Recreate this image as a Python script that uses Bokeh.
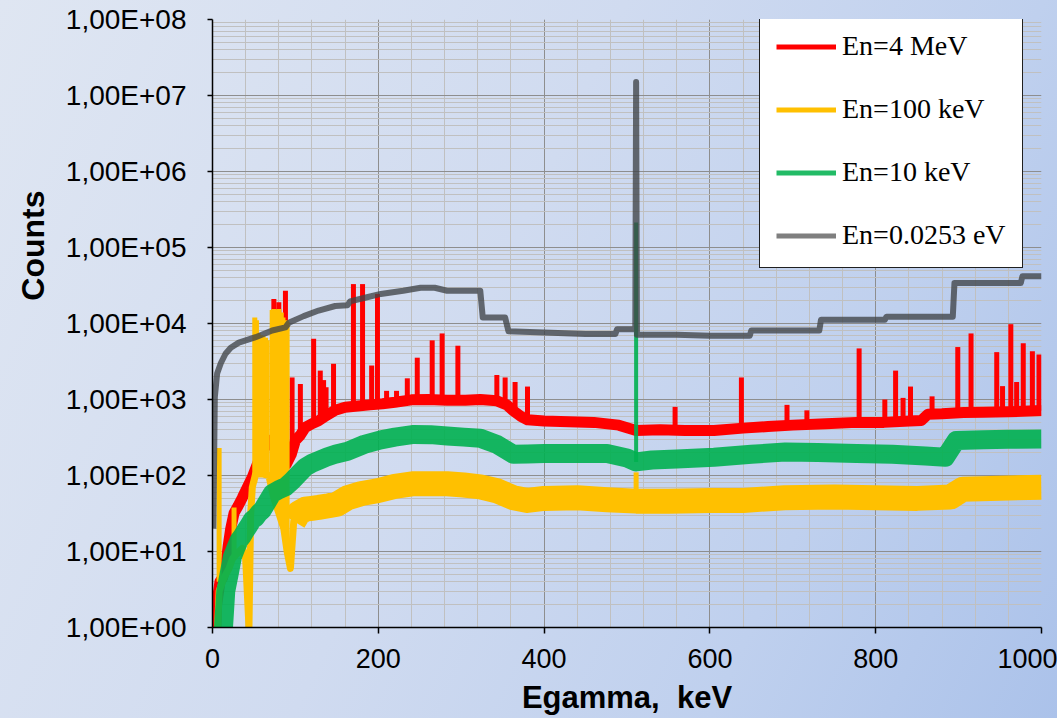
import math
from bokeh.plotting import figure
from bokeh.models import (Range1d, FixedTicker, CustomJSTickFormatter, Legend,
                          LegendItem, Title)
from bokeh.embed import file_html
from bokeh.resources import INLINE

# ---------------- data ----------------
X_TICKS = [0, 200, 400, 600, 800, 1000]
X_TICK_LABELS = ["0", "200", "400", "600", "800", "1000"]
Y_TICKS = [1, 10, 100, 1e3, 1e4, 1e5, 1e6, 1e7, 1e8]
Y_TICK_LABELS = ["1,00E+00", "1,00E+01", "1,00E+02", "1,00E+03", "1,00E+04",
                 "1,00E+05", "1,00E+06", "1,00E+07", "1,00E+08"]
X_TITLE = "Egamma,\u00a0 keV"
Y_TITLE = "Counts"

SERIES_NAMES = ["En=4 MeV", "En=100 keV", "En=10 keV", "En=0.0253 eV"]

# En=4 MeV : continuum
RED_X = [3, 5, 9, 12, 16, 19, 22, 26, 31, 36, 42, 48, 55, 62, 68, 75, 82, 89, 95, 100,
         106, 112, 120, 128, 138, 148, 160, 175, 190, 205, 220, 240, 260, 283, 305, 323,
         343, 355, 363, 372, 380, 400, 430, 460, 490, 511, 540, 570, 605, 640, 670, 700,
         740, 777, 810, 841, 855, 863, 880, 906, 930, 960, 1000]
RED_Y = [0.5, 2, 4, 4.5, 6.5, 12, 20, 32, 40, 51, 70, 95, 150, 220, 290, 260, 200, 140, 190, 290,
         340, 430, 480, 525, 620, 720, 790, 820, 850, 880, 920, 990, 1000, 980, 980, 1000,
         960, 850, 710, 600, 540, 520, 510, 500, 460, 390, 400, 390, 390, 420, 440, 460,
         480, 500, 500, 520, 530, 640, 650, 676, 680, 690, 716]
# En=4 MeV : lines
RED_PEAK_X = [74, 80, 88, 96, 106, 122, 130, 134, 137, 146, 170, 181, 192, 199, 210, 222, 235,
              247, 265, 277, 296, 343, 353, 365, 380, 558, 638, 693, 717, 780, 811, 824, 833,
              842, 868, 899, 915, 946, 953, 963, 970, 978, 989, 997]
RED_PEAK_TOP = [21000, 19000, 27000, 1950, 1600, 6300, 2400, 1800, 1450, 2950, 33000, 33000,
                2800, 24500, 1300, 1300, 1900, 3550, 6000, 7400, 5100, 2100, 1950, 1700, 1480,
                800, 1950, 850, 720, 4700, 1000, 2400, 1050, 1480, 1100, 4900, 7400, 4200,
                1500, 9800, 1700, 5500, 4300, 3900]
RED_PEAK_BASE = [260, 230, 150, 190, 340, 490, 540, 560, 600, 700, 810, 830, 850, 870, 890, 920,
                 970, 990, 1000, 990, 980, 960, 870, 690, 540, 400, 420, 455, 470, 500, 500,
                 505, 510, 520, 640, 670, 676, 685, 688, 690, 690, 695, 700, 710]

# En=100 keV : low-energy part and continuum
YELLOW_LOW_X = [5, 8, 12, 16, 20, 24, 28, 32, 36, 40, 44, 46, 48, 52, 60, 68, 74, 80, 86, 90,
                94, 98, 104]
YELLOW_LOW_Y = [0.5, 3, 4, 5, 6, 8, 9, 10, 11, 8, 1, 30, 70, 105, 105, 100, 50, 32, 20, 10,
                6, 25, 32]
YELLOW_X = [98, 104, 112, 120, 128, 140, 150, 163, 180, 199, 220, 243, 263, 283, 303, 323,
            343, 363, 380, 400, 440, 476, 511, 550, 600, 640, 690, 750, 800, 850, 890, 905,
            950, 1000]
YELLOW_Y = [25, 32, 36, 37, 38, 40, 42, 51, 58, 63, 72, 78, 78, 78, 75, 71,
            63, 51, 47, 50, 51, 48, 46, 46, 47, 47, 51, 52, 51, 50, 52, 66,
            68, 70]
YELLOW_PEAK_X = [8, 26, 51, 53, 55, 58, 61, 64, 66, 72, 74, 77, 80, 83, 85, 89, 90, 511]
YELLOW_PEAK_TOP = [230, 38, 12000, 11000, 7500, 7000, 6800, 6500, 6000, 15000, 15500, 15000,
                   15500, 14000, 12000, 11000, 10500, 110]
YELLOW_PEAK_BASE = [4, 9, 80, 100, 105, 105, 105, 100, 100, 90, 60, 45, 35, 28, 24, 12, 10, 46]

# En=10 keV
GREEN_X = [12, 16, 20, 24, 28, 32, 36, 40, 44, 48, 52, 56, 60, 66, 72, 80, 88, 96, 104, 112,
           120, 128, 138, 148, 163, 183, 203, 220, 243, 263, 283, 303, 323, 343, 363, 380,
           400, 440, 476, 500, 511, 530, 560, 605, 650, 691, 730, 777, 820, 860, 884, 897,
           930, 960, 1000]
GREEN_Y = [0.6, 3, 5, 8.5, 11, 14, 16, 19, 22, 26, 28, 32, 35, 45, 58, 65, 71, 85, 105, 129,
           145, 158, 175, 190, 209, 257, 295, 320, 347, 345, 331, 320, 309, 257, 190, 192,
           195, 195, 195, 170, 151, 160, 165, 174, 190, 204, 200, 195, 190, 180, 174, 288,
           295, 300, 302]
GREEN_PEAK_X = [511]
GREEN_PEAK_TOP = [214000]
GREEN_PEAK_BASE = [151]

# En=0.0253 eV
GRAY_X = [1, 2.8, 5.6, 10, 15.7, 22, 31.7, 52, 72, 88, 92, 110, 128, 148, 163, 166, 185, 203,
          230, 251, 268, 283, 323, 326, 353, 357, 400, 450, 486, 488, 510, 511, 512, 560, 600,
          648, 650, 732, 734, 811, 813, 893, 895, 975, 977, 1000]
GRAY_Y = [20, 1070, 2200, 3000, 4000, 4800, 5600, 6600, 8100, 8900, 10200, 12500, 14800, 17000,
          17400, 19500, 22000, 24500, 27000, 29500, 29500, 27000, 27000, 12000, 12000, 7900,
          7600, 7300, 7300, 8400, 8400, 15000000, 7100, 7100, 6900, 6900, 8100, 8100, 11200,
          11200, 12300, 12300, 34000, 34000, 42000, 42000]

# ---------------- figure ----------------
W, H = 1057, 718
p = figure(width=W, height=H, y_axis_type="log", output_backend="svg",
           toolbar_location=None,
           x_range=Range1d(0, 1000), y_range=Range1d(1, 1e8),
           min_border_left=212, min_border_right=16, min_border_top=19,
           min_border_bottom=91)
p.styles = {"background": "linear-gradient(115deg, #DFE6F2 0%, #D0DBF0 45%, #BFD0EE 75%, #ABC2EA 100%)"}
p.border_fill_alpha = 0
p.background_fill_alpha = 0
p.outline_line_color = None

x_minor = [v for v in range(0, 1001, 40)]
y_minor = [k * 10 ** d for d in range(0, 8) for k in range(2, 10)]
p.xaxis.ticker = FixedTicker(ticks=X_TICKS, minor_ticks=x_minor)
p.yaxis.ticker = FixedTicker(ticks=Y_TICKS, minor_ticks=y_minor)
p.xgrid.ticker = p.xaxis.ticker
p.ygrid.ticker = p.yaxis.ticker

fmt_code = """
let best = 0;
for (let i = 0; i < tvals.length; i++) {
  if (Math.abs(tvals[i] - tick) < Math.abs(tvals[best] - tick)) best = i;
}
return tlabels[best];
"""
fmt_code_log = """
let best = 0;
const lt = Math.log10(tick);
for (let i = 0; i < tvals.length; i++) {
  if (Math.abs(Math.log10(tvals[i]) - lt) < Math.abs(Math.log10(tvals[best]) - lt)) best = i;
}
return tlabels[best];
"""
p.xaxis.formatter = CustomJSTickFormatter(args=dict(tvals=X_TICKS, tlabels=X_TICK_LABELS), code=fmt_code)
p.yaxis.formatter = CustomJSTickFormatter(args=dict(tvals=Y_TICKS, tlabels=Y_TICK_LABELS), code=fmt_code_log)

for g in (p.xgrid, p.ygrid):
    g.grid_line_color = "#8E8E8E"
    g.grid_line_width = 1
    g.minor_grid_line_color = "#C0C0C0"
    g.minor_grid_line_width = 1

for ax in (p.xaxis, p.yaxis):
    ax.axis_line_color = "black"
    ax.axis_line_width = 1.5
    ax.major_tick_line_color = "black"
    ax.major_tick_line_width = 1.5
    ax.major_tick_in = 0
    ax.minor_tick_in = 0
    ax.minor_tick_out = 0
    ax.major_label_text_font = "Liberation Sans"
    ax.major_label_text_color = "black"

p.xaxis.major_tick_out = 6
p.yaxis.major_tick_out = 5
p.xaxis.major_label_text_font_size = "27px"
p.yaxis.major_label_text_font_size = "28px"
p.xaxis.major_label_standoff = 15
p.yaxis.major_label_standoff = 21

p.xaxis.axis_label = X_TITLE
p.xaxis.axis_label_text_font = "Liberation Sans"
p.xaxis.axis_label_text_font_size = "31px"
p.xaxis.axis_label_text_font_style = "bold"
p.xaxis.axis_label_text_color = "black"
p.xaxis.axis_label_standoff = 9

yt = Title(text=Y_TITLE, align="right", offset=171, text_font="Liberation Sans",
           text_font_size="32px", text_font_style="bold", text_color="black",
           standoff=23)
p.add_layout(yt, "left")

# ---------------- series ----------------
RED, YEL, GRN, GRY = "#FF0000", "#FFC000", "#00B050", "#404448"

p.line(RED_X, RED_Y, line_color=RED, line_width=11, line_join="round")
p.segment(x0=RED_PEAK_X, y0=RED_PEAK_BASE, x1=RED_PEAK_X, y1=RED_PEAK_TOP,
          line_color=RED, line_width=5)

p.line(YELLOW_LOW_X, YELLOW_LOW_Y, line_color=YEL, line_width=7, line_join="round")
p.line(YELLOW_X, YELLOW_Y, line_color=YEL, line_width=25, line_join="round")
p.segment(x0=YELLOW_PEAK_X, y0=YELLOW_PEAK_BASE, x1=YELLOW_PEAK_X, y1=YELLOW_PEAK_TOP,
          line_color=YEL, line_width=5)

p.line(GREEN_X, GREEN_Y, line_color=GRN, line_alpha=0.9, line_width=19, line_join="round")
p.segment(x0=GREEN_PEAK_X, y0=GREEN_PEAK_BASE, x1=GREEN_PEAK_X, y1=GREEN_PEAK_TOP,
          line_color=GRN, line_alpha=0.9, line_width=4)

p.line(GRAY_X, GRAY_Y, line_color=GRY, line_alpha=0.78, line_width=6, line_join="round")

# legend swatches
leg_colors = ["#FF0000", "#FFC000", "#22BB66", "#7F7F7F"]
items = []
for name, c in zip(SERIES_NAMES, leg_colors):
    r = p.line(x=[float("nan")], y=[float("nan")], line_color=c, line_width=5)
    items.append(LegendItem(label=name, renderers=[r]))

legend = Legend(items=items, location=(759 - 212, 627 - 268),
                label_text_font="Liberation Serif", label_text_font_size="28px",
                label_text_color="black", glyph_width=60, glyph_height=31,
                label_height=31, label_standoff=6, spacing=31, padding=16,
                margin=0, border_line_color="#202020", border_line_width=1.5,
                border_line_alpha=1,
                background_fill_color="white", background_fill_alpha=1)
p.add_layout(legend)

open("out.html", "w").write(file_html(p, INLINE))
